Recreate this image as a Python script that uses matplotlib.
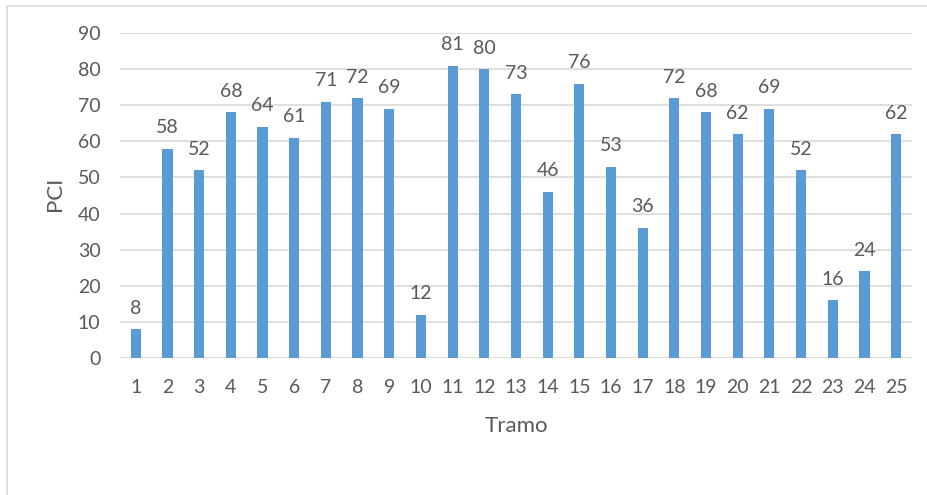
import matplotlib
matplotlib.use("Agg")
import matplotlib.pyplot as plt
from matplotlib.patches import Rectangle

tramos = [str(i) for i in range(1, 26)]
pci = [8, 58, 52, 68, 64, 61, 71, 72, 69, 12, 81, 80, 73, 46, 76, 53, 36, 72, 68, 62, 69, 52, 16, 24, 62]

txt = '#595959'
plt.rcParams['font.family'] = ['Lato', 'DejaVu Sans']

fig = plt.figure(figsize=(9.27, 4.95), dpi=100)
ax = fig.add_axes([0.1294, 0.2768, 0.8544, 0.6565])

x = list(range(len(pci)))
bars = ax.bar(x, pci, width=0.32, color='#5B9BD5', zorder=3)
for b, v in zip(bars, pci):
    ax.annotate(str(v), (b.get_x() + b.get_width() / 2, v), xytext=(0, 9),
                textcoords='offset points', ha='center', va='bottom',
                fontsize=14, color=txt)

ax.set_xlim(-0.5, len(pci) - 0.5)
ax.set_ylim(0, 90)
ax.set_yticks(range(0, 91, 10))
ax.set_xticks(x)
ax.set_xticklabels(tramos)
ax.yaxis.grid(True, color='#D9D9D9', linewidth=1.2, zorder=0)
for s in ax.spines.values():
    s.set_visible(False)
ax.axhline(0, color='#D9D9D9', linewidth=1.2, zorder=1)
ax.tick_params(length=0, labelsize=14, labelcolor=txt)
ax.tick_params(axis='x', pad=15)
ax.tick_params(axis='y', pad=14)

ax.set_xlabel('Tramo', fontsize=16, color=txt)
ax.set_ylabel('PCI', fontsize=16, color=txt)
ax.xaxis.set_label_coords(0.5, -0.178)
ax.yaxis.set_label_coords(-0.07, 0.505)

# chart frame, only left and top edges fall inside the image
fig.patches.append(Rectangle((7 / 927, -0.1), 1.2, 1.1 - 6 / 495, transform=fig.transFigure,
                             fill=False, edgecolor='#D9D9D9', linewidth=1.2))

fig.savefig('out.png', dpi=100)
